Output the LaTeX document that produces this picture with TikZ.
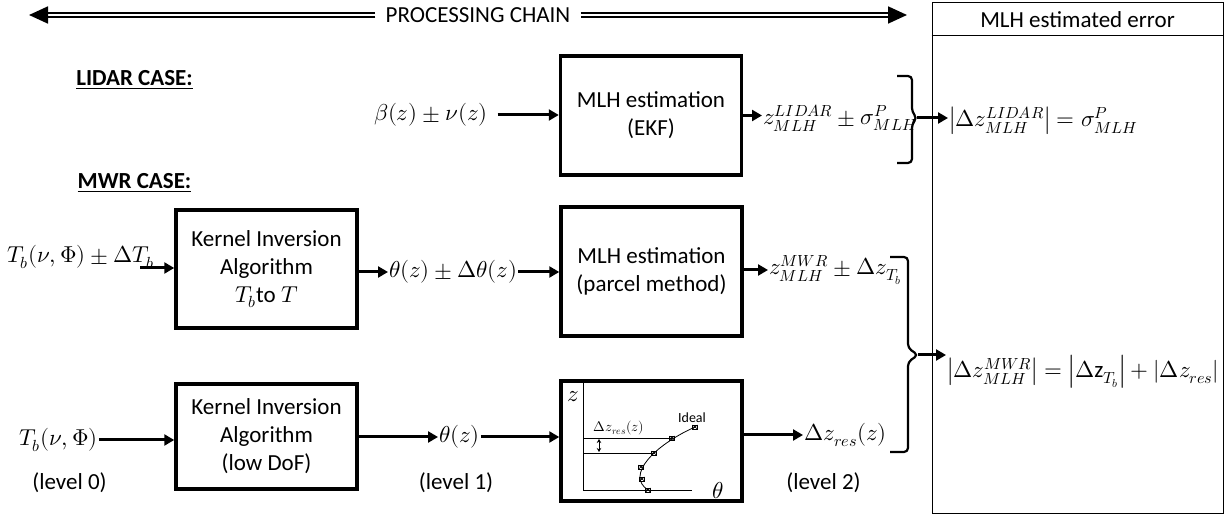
\documentclass[tikz,border=0pt]{standalone}
\usepackage{fontspec}
\usepackage{unicode-math}
\setmainfont{Carlito}
\setmathfont{Latin Modern Math}
\usetikzlibrary{arrows.meta}
\definecolor{ChainInk}{HTML}{000000}
\definecolor{ChainPaper}{HTML}{FFFFFF}
\tikzset{
  procbox/.style={draw=ChainInk, line width=3.5pt, minimum width=181pt, align=center, inner sep=0pt},
  flowarrow/.style={draw=ChainInk, line width=3pt, -{Triangle[length=10pt,width=11pt]}},
  chainarrow/.style={draw=ChainInk, double=ChainPaper, double distance=2.4pt, line width=1.8pt, -{Triangle[length=19pt,width=17pt]}},
  bracepen/.style={draw=ChainInk, line width=2.2pt, rounded corners=4pt},
  quantity/.style={inner sep=1pt, anchor=west},
  casehead/.style={font=\fontsize{23}{28}\selectfont\bfseries},
  smalltag/.style={font=\fontsize{14}{16}\selectfont, inner sep=0pt}
}

\begin{document}
\begin{tikzpicture}[x=1pt,y=-1pt,every node/.append style={font=\fontsize{23}{28}\selectfont}]
  \useasboundingbox (0,0) rectangle (1227,518);

  % processing chain and error panel
  \node[inner xsep=10pt, inner ysep=2pt] (chain) at (478,15) {PROCESSING CHAIN};
  \coordinate (chainL) at (29,15);
  \coordinate (chainR) at (907,15);
  \draw[chainarrow] (chain.west) -- (chainL);
  \draw[chainarrow] (chain.east) -- (chainR);
  \node[draw=ChainInk, line width=1pt, minimum width=291pt, minimum height=511pt, inner sep=0pt] (errpanel) at (1077.5,258.5) {};
  \node (errhead) at (1077.5,20) {MLH estimated error};
  \draw[ChainInk, line width=1pt] (errpanel.west |- 0,36) -- (errpanel.east |- 0,36);

  % lidar case
  \node[casehead] (lidarcase) at (134.5,80) {\underline{LIDAR CASE:}};
  \node[quantity] (beta) at (373,115) {$\beta(z)\pm\nu(z)$};
  \node[procbox, minimum height=119pt] (ekf) at (651,115.5) {MLH estimation\\(EKF)};
  \node[quantity] (zlidar) at (762,118) {$z^{LIDAR}_{MLH}\pm\sigma^{P}_{MLH}$};
  \draw[bracepen] (897,76) -- (912,76) -- (912,112) -- (917,118) -- (912,124) -- (912,163) -- (897,163);
  \coordinate (lbrace) at (917,118);
  \node[quantity] (errlidar) at (948,121) {$\left|\Delta z^{LIDAR}_{MLH}\right| = \sigma^{P}_{MLH}$};
  \draw[flowarrow] ([xshift=9pt]beta.east) -- (beta.east -| ekf.west);
  \draw[flowarrow] (ekf.east) -- (ekf.east -| zlidar.west);
  \draw[flowarrow] (lbrace) -- (lbrace -| errlidar.west);

  % mwr case
  \node[casehead] (mwrcase) at (134.5,183) {\underline{MWR CASE:}};
  \node[quantity] (tbdt) at (6,257) {$T_b(\nu,\Phi)\pm\Delta T_b$};
  \coordinate (tbin) at (140,268);
  \node[procbox, minimum height=118pt] (kernA) at (266.5,269) {Kernel Inversion\\Algorithm\\$T_b$to $T$};
  \node[quantity] (thdt) at (388,272) {$\theta(z)\pm\Delta\theta(z)$};
  \node[procbox, minimum height=129pt] (parcel) at (651.5,271.5) {MLH estimation\\(parcel method)};
  \node[quantity] (zmwr) at (768,270) {$z^{MWR}_{MLH}\pm\Delta z_{T_b}$};
  \draw[bracepen] (890,257) -- (908,257) -- (908,348) -- (918,355) -- (908,362) -- (908,452) -- (890,452);
  \coordinate (mbrace) at (918,355);
  \node[quantity] (errmwr) at (946,372) {$\left|\Delta z^{MWR}_{MLH}\right| = \left|\Delta \mathrm{z}_{T_b}\right| + \left|\Delta z_{res}\right|$};
  \draw[flowarrow] (tbin) -- (tbin -| kernA.west);
  \draw[flowarrow] (thdt.west -| kernA.east) -- (thdt.west);
  \draw[flowarrow] (thdt.east) -- (thdt.east -| parcel.west);
  \draw[flowarrow] (zmwr.west -| parcel.east) -- (zmwr.west);
  \draw[flowarrow] (mbrace) -- (mbrace -| errmwr.west);

  % low dof chain
  \node[quantity] (tbl) at (18,440) {$T_b(\nu,\Phi)$};
  \node[procbox, minimum height=105pt] (kernB) at (266.5,436.5) {Kernel Inversion\\Algorithm\\(low DoF)};
  \node[quantity] (thl) at (438,437) {$\theta(z)$};
  \node[procbox, minimum height=120pt] (profile) at (651.5,441) {};
  \node[quantity] (dzres) at (803,435) {$\Delta z_{res}(z)$};
  \draw[flowarrow] (tbl.east) -- (tbl.east -| kernB.west);
  \draw[flowarrow] (thl.west -| kernB.east) -- (thl.west);
  \draw[flowarrow] (thl.east) -- (thl.east -| profile.west);
  \draw[flowarrow] (dzres.west -| profile.east) -- (dzres.west);
  \node (lev0) at (69.5,483) {(level 0)};
  \node (lev1) at (456,483) {(level 1)};
  \node (lev2) at (823.5,483) {(level 2)};

  % sketch of the profile
  \draw[ChainInk, line width=0.8pt] (583,381) -- (583,490) -- (692,490);
  \draw[ChainInk, line width=0.8pt] (583,438) -- (672,438);
  \draw[ChainInk, line width=0.8pt] (583,453) -- (654,453);
  \draw[ChainInk, line width=0.8pt, {Stealth[length=4pt,width=4.5pt]}-{Stealth[length=4pt,width=4.5pt]}] (599,439) -- (599,452);
  \draw[ChainInk, line width=0.8pt] (695,427) .. controls (655,445) and (625,475) .. (648,490);
  \foreach \px/\py in {695/427,672/438,654/453,641/467,642/479,648/490} {
    \draw[ChainInk, line width=0.8pt] (\px-2.5,\py-2) rectangle (\px+2.5,\py+2);
    \draw[ChainInk, line width=0.6pt] (\px-2.5,\py-2) -- (\px+2.5,\py+2) (\px-2.5,\py+2) -- (\px+2.5,\py-2);
  }
  \node[inner sep=0pt] (zaxis) at (573,397) {$z$};
  \node[inner sep=0pt] (thaxis) at (718,491) {$\theta$};
  \node[smalltag] (dzlab) at (619,428) {$\Delta z_{res}(z)$};
  \node[smalltag] (ideal) at (692,418) {Ideal};
\end{tikzpicture}
\end{document}
